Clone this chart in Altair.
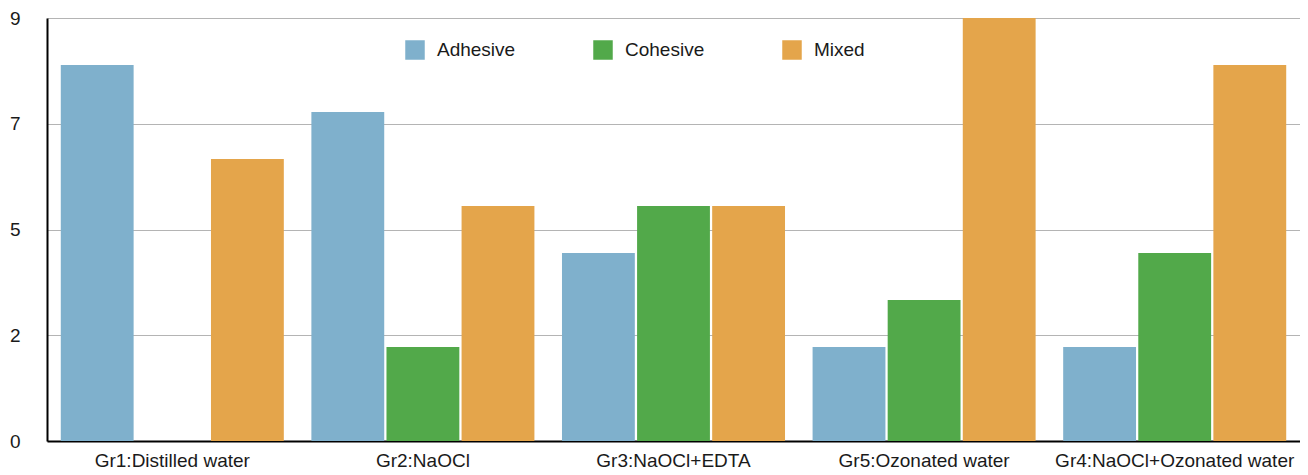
import altair as alt
import pandas as pd

groups = ["Gr1:Distilled water", "Gr2:NaOCl", "Gr3:NaOCl+EDTA", "Gr5:Ozonated water", "Gr4:NaOCl+Ozonated water"]
types = ["Adhesive", "Cohesive", "Mixed"]
adhesive = [8, 7, 4, 2, 2]
cohesive = [0, 2, 5, 3, 4]
mixed = [6, 5, 5, 9, 8]
colors = ["#7fb0cc", "#52a94a", "#e4a54b"]
y_ticks = [0, 2.25, 4.5, 6.75, 9]

rows = []
for i, g in enumerate(groups):
    for t, vals in zip(types, [adhesive, cohesive, mixed]):
        rows.append({"group": g, "type": t, "value": vals[i]})
df = pd.DataFrame(rows)

font = "Liberation Sans"
fs = 19

chart = alt.Chart(df).mark_bar(strokeWidth=0).encode(
    x=alt.X("group:N", sort=groups, title=None,
            scale=alt.Scale(paddingInner=0.11, paddingOuter=0.055),
            axis=alt.Axis(labelAngle=0, labelFont=font, labelFontSize=fs, labelColor="#1a1a1a",
                          domainColor="black", domainWidth=2, ticks=False, labelPadding=10,
                          grid=False, labelLimit=400)),
    xOffset=alt.XOffset("type:N", sort=types, scale=alt.Scale(paddingInner=0.03, paddingOuter=0.0)),
    y=alt.Y("value:Q", title=None,
            scale=alt.Scale(domain=[0, 9], nice=False),
            axis=alt.Axis(values=y_ticks, format=".0f", labelFont=font, labelFontSize=fs,
                          labelColor="#1a1a1a", domainColor="black", domainWidth=2, ticks=False,
                          labelPadding=27, gridColor="#b4b4b4", gridWidth=1)),
    color=alt.Color("type:N", sort=types,
                    scale=alt.Scale(domain=types, range=colors),
                    legend=alt.Legend(title=None, orient="none", legendX=358, legendY=22,
                                      direction="horizontal", columns=3, symbolType="square",
                                      symbolSize=380, symbolStrokeWidth=0, labelOffset=12,
                                      columnPadding=77, labelFont=font, labelFontSize=fs,
                                      labelColor="#1a1a1a", padding=0)),
).properties(
    width=1253, height=423,
    autosize=alt.AutoSizeParams(type="none"),
    padding={"left": 39, "top": 10, "right": 0, "bottom": 30},
).configure_view(stroke=None)

chart.save("out.html", embed_options={"renderer": "svg", "actions": False})
